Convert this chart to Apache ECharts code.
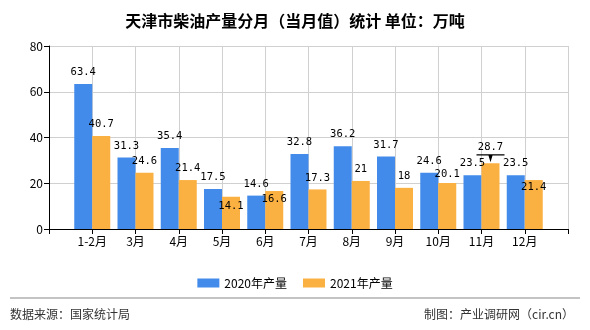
<!DOCTYPE html>
<html><head><meta charset="utf-8">
<script src="https://cdn.jsdelivr.net/npm/echarts@6/dist/echarts.min.js"></script>
<style>html,body{margin:0;padding:0;background:#fff}#c{width:590px;height:330px}</style>
</head><body><div id="c"></div>
<script>
var categories = ['1-2月','3月','4月','5月','6月','7月','8月','9月','10月','11月','12月'];
var values2020 = [63.4,31.3,35.4,17.5,14.6,32.8,36.2,31.7,24.6,23.5,23.5];
var values2021 = [40.7,24.6,21.4,14.1,16.6,17.3,21,18,20.1,28.7,21.4];
var seriesNames = ['2020年产量','2021年产量'];
var yTicks = [0,20,40,60,80];
var markedIndex = 9;

// label nudges (style only) for overlapping 2021 labels, keyed by category index
var labelNudge2021 = {3:21, 4:20, 8:3, 10:19};

var cats = [''].concat(categories).concat(['']);
function pad(a){ return ['-'].concat(a).concat(['-']); }
var d2021 = pad(values2021).map(function(v,i){
  var k = i-1;
  if (k === markedIndex) return {value:v, label:{show:false}};
  if (labelNudge2021[k] !== undefined) return {value:v, label:{offset:[0, labelNudge2021[k]]}};
  return v;
});
var labelFont = {fontFamily:'DejaVu Sans Mono', fontSize:10.5, color:'#000'};
var chart = echarts.init(document.getElementById('c'));
chart.setOption({
  animation:false,
  textStyle:{fontFamily:'"Noto Sans CJK SC", sans-serif'},
  title:{text:'天津市柴油产量分月（当月值）统计 单位：万吨', left:'center', top:8,
    textStyle:{fontSize:16, fontWeight:'bold', color:'#000', fontFamily:'"Noto Sans CJK SC", sans-serif'}},
  grid:{left:49, right:22, top:46, bottom:101},
  legend:{data:seriesNames, left:'center', top:272, itemWidth:22, itemHeight:9, itemGap:16,
    icon:'rect', textStyle:{fontSize:12, color:'#000'}},
  xAxis:{type:'category', data:cats, boundaryGap:false,
    axisLine:{lineStyle:{color:'#000'}}, axisTick:{length:5, lineStyle:{color:'#000'}},
    axisLabel:{color:'#000', fontSize:12, margin:6, interval:0},
    splitLine:{show:true, lineStyle:{color:'#d0d0d0'}}},
  yAxis:{type:'value', min:yTicks[0], max:yTicks[yTicks.length-1], interval:20,
    axisLine:{show:true, lineStyle:{color:'#000'}}, axisTick:{show:true, length:5, lineStyle:{color:'#000'}},
    axisLabel:{color:'#000', fontSize:12, margin:6},
    splitLine:{lineStyle:{color:'#d0d0d0'}}},
  series:[
    {name:seriesNames[0], type:'bar', data:pad(values2020), barWidth:18, barGap:'0%',
      itemStyle:{color:'#428BEA'},
      label:Object.assign({show:true, position:'top', distance:6}, labelFont)},
    {name:seriesNames[1], type:'bar', data:d2021, barWidth:18, barGap:'0%',
      itemStyle:{color:'#FBB142'},
      label:Object.assign({show:true, position:'top', distance:6}, labelFont),
      markPoint:{data:[{coord:[markedIndex+1, values2021[markedIndex]], value:values2021[markedIndex]}],
        symbol:'path://M0,0 L28,0 L28,1 L16,1 L14,7 L12,1 L0,1 Z', symbolSize:[28,8], symbolOffset:[0,-5],
        itemStyle:{color:'#000'},
        label:Object.assign({show:true, position:'top', distance:2}, labelFont)}}
  ],
  graphic:[
    {type:'line', shape:{x1:10, y1:298, x2:580, y2:298}, style:{stroke:'#888', lineWidth:1}},
    {type:'text', left:10, top:308, style:{text:'数据来源：国家统计局', fontSize:12, fill:'#333', fontFamily:'"Noto Sans CJK SC", sans-serif'}},
    {type:'text', right:16, top:308, style:{text:'制图：产业调研网（cir.cn）', fontSize:12, fill:'#333', fontFamily:'"Noto Sans CJK SC", sans-serif'}}
  ]
});
</script></body></html>
